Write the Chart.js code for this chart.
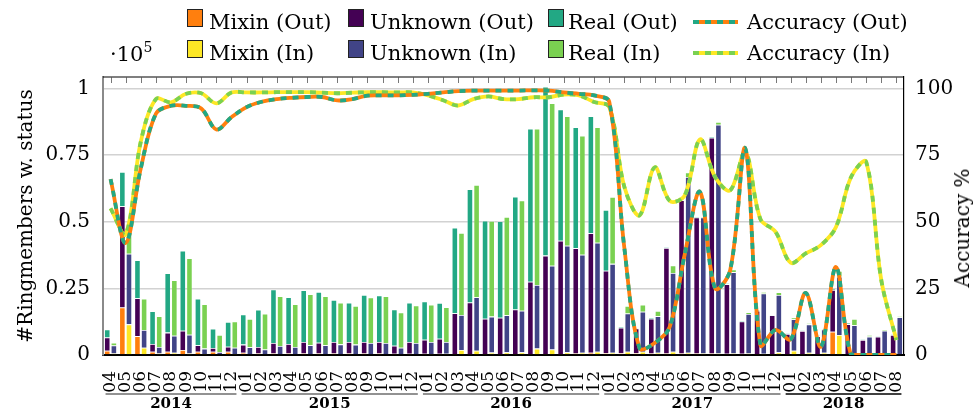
<!DOCTYPE html>
<html>
<head>
<meta charset="utf-8">
<script src="https://cdn.jsdelivr.net/npm/chart.js@4"></script>
<style>
  html, body { margin: 0; padding: 0; background: #fff; }
  #wrap { position: relative; width: 977px; height: 410px; overflow: hidden; }
  #chartBox { position: absolute; left: 0; top: 0; width: 977px; height: 410px; }
  .lg { position: absolute; font-family: 'DejaVu Serif', serif; font-size: 21px; line-height: 21px; color: #000; white-space: nowrap; }
  .box { position: absolute; width: 14px; height: 16px; border: 1px solid #222; }
  .ln { position: absolute; width: 45px; height: 4px; }
  #mult { position: absolute; left: 110px; top: 44px; font-family: 'DejaVu Serif', serif; font-size: 21px; line-height: 21px; }
  #mult sup { font-size: 14px; vertical-align: 9px; line-height: 0; }
  #rightTitle { position: absolute; left: 962px; top: 228px; font-family: 'DejaVu Serif', serif; font-size: 20px; line-height: 20px;
    white-space: nowrap; transform: translate(-50%, -50%) rotate(-90deg); }
</style>
</head>
<body>
<div id="wrap">
  <div id="chartBox"><canvas id="ringChart"></canvas></div>
  <div id="mult">·10<sup>5</sup></div>
  <div id="rightTitle">Accuracy %</div>
</div>
<script>
// month categories
const months = [
  '2014-04','2014-05','2014-06','2014-07','2014-08','2014-09','2014-10','2014-11','2014-12',
  '2015-01','2015-02','2015-03','2015-04','2015-05','2015-06','2015-07','2015-08','2015-09','2015-10','2015-11','2015-12',
  '2016-01','2016-02','2016-03','2016-04','2016-05','2016-06','2016-07','2016-08','2016-09','2016-10','2016-11','2016-12',
  '2017-01','2017-02','2017-03','2017-04','2017-05','2017-06','2017-07','2017-08','2017-09','2017-10','2017-11','2017-12',
  '2018-01','2018-02','2018-03','2018-04','2018-05','2018-06','2018-07','2018-08'
];

// ring members (x 10^5), outputs
const mixinOut = [
  0.016, 0.178, 0.071, 0.012, 0.012, 0.019, 0.012, 0.012, 0.012,
  0.008, 0.006, 0.006, 0.006, 0.006, 0.006, 0.006, 0.006, 0.006, 0.006, 0.005, 0.005,
  0.005, 0.005, 0.004, 0.004, 0.004, 0.004, 0.004, 0.004, 0.004, 0.004, 0.006, 0.008,
  0.007, 0.007, 0.007, 0.006, 0.006, 0.006, 0.006, 0.006, 0.005, 0.005, 0.004, 0.004,
  0.004, 0.004, 0.004, 0.087, 0.003, 0.003, 0.003, 0.003
];
const unknownOut = [
  0.050, 0.380, 0.142, 0.029, 0.072, 0.072, 0.025, 0.014, 0.019,
  0.031, 0.024, 0.039, 0.035, 0.043, 0.040, 0.043, 0.043, 0.043, 0.043, 0.030, 0.044,
  0.052, 0.056, 0.153, 0.193, 0.132, 0.136, 0.167, 0.271, 0.369, 0.425, 0.395, 0.449,
  0.309, 0.095, 0.093, 0.130, 0.396, 0.575, 0.510, 0.809, 0.261, 0.121, 0.162, 0.145,
  0.075, 0.086, 0.067, 0.157, 0.113, 0.053, 0.066, 0.072
];
const realOut = [
  0.030, 0.129, 0.143, 0.123, 0.223, 0.300, 0.174, 0.073, 0.093,
  0.113, 0.140, 0.201, 0.176, 0.194, 0.191, 0.158, 0.147, 0.176, 0.174, 0.136, 0.147,
  0.144, 0.134, 0.321, 0.425, 0.368, 0.362, 0.423, 0.574, 0.634, 0.492, 0.454, 0.439,
  0.228, 0.004, 0.003, 0.003, 0.003, 0.003, 0.003, 0.003, 0.003, 0.003, 0.003, 0.003,
  0.002, 0.002, 0.002, 0.004, 0.004, 0.002, 0.002, 0.002
];

// ring members (x 10^5), inputs
const mixinIn = [
  0.006, 0.115, 0.027, 0.006, 0.008, 0.006, 0.004, 0.003, 0.004,
  0.003, 0.003, 0.003, 0.003, 0.003, 0.003, 0.003, 0.003, 0.003, 0.003, 0.003, 0.003,
  0.004, 0.005, 0.019, 0.016, 0.009, 0.010, 0.010, 0.024, 0.021, 0.010, 0.008, 0.012,
  0.008, 0.012, 0.012, 0.008, 0.012, 0.008, 0.006, 0.006, 0.006, 0.006, 0.005, 0.010,
  0.016, 0.008, 0.008, 0.075, 0.003, 0.003, 0.003, 0.003
];
const unknownIn = [
  0.030, 0.265, 0.067, 0.024, 0.064, 0.070, 0.020, 0.008, 0.023,
  0.026, 0.018, 0.031, 0.027, 0.034, 0.034, 0.037, 0.036, 0.042, 0.042, 0.024, 0.042,
  0.045, 0.044, 0.131, 0.201, 0.135, 0.139, 0.156, 0.239, 0.314, 0.400, 0.368, 0.409,
  0.334, 0.144, 0.150, 0.138, 0.296, 0.660, 0.510, 0.858, 0.305, 0.148, 0.226, 0.215,
  0.118, 0.107, 0.088, 0.219, 0.109, 0.066, 0.088, 0.139
];
const realIn = [
  0.010, 0.103, 0.117, 0.116, 0.209, 0.287, 0.167, 0.064, 0.099,
  0.106, 0.134, 0.187, 0.161, 0.191, 0.184, 0.156, 0.145, 0.171, 0.176, 0.133, 0.141,
  0.140, 0.130, 0.308, 0.421, 0.359, 0.369, 0.414, 0.586, 0.610, 0.486, 0.447, 0.434,
  0.251, 0.028, 0.027, 0.019, 0.028, 0.017, 0.004, 0.010, 0.010, 0.007, 0.005, 0.011,
  0.007, 0.004, 0.004, 0.021, 0.023, 0.006, 0.003, 0.003
];

// accuracy in %
const accuracyOut = [
  66, 42, 70, 90.5, 93.5, 93.5, 92.5, 84.6, 89.2,
  93, 95, 96, 96.5, 96.8, 96.8, 95.5, 96, 97.3, 97.4, 97.4, 97.6,
  98, 98.5, 99, 99.2, 99.2, 99.2, 99.2, 99.3, 99.2, 98.5, 98, 97.4,
  95, 40, 2.6, 4.5, 10.6, 38, 61.2, 25, 31.8, 77.5, 3.7, 9.4,
  5.9, 23.3, 3.1, 33, 0, 0, 0, 0
];
const accuracyIn = [
  55, 45.3, 80, 96, 94.8, 98, 98.2, 94.4, 98.5,
  98.5, 98.5, 98.6, 98.6, 98.6, 98.4, 98.2, 98.4, 98.6, 98.6, 98.5, 98.5,
  97.4, 95.6, 93.6, 96, 97, 96, 96, 96.7, 96.7, 97.7, 97.4, 94.9,
  93, 63, 52.4, 70.4, 57.8, 60, 80.9, 66.8, 61.8, 76.1, 51, 46.2,
  34.6, 38.1, 41.2, 48, 66.8, 72.4, 28, 5.6
];

const C = {
  mixOut: '#ff7f0e', unkOut: '#440154', realOut: '#22a884',
  mixIn: '#fde725', unkIn: '#414487', realIn: '#7ad151'
};
const serif = 'DejaVu Serif';

// legend (html)
const legendItems = [
  { text: 'Mixin (Out)', color: C.mixOut, row: 0, col: 0 },
  { text: 'Unknown (Out)', color: C.unkOut, row: 0, col: 1 },
  { text: 'Real (Out)', color: C.realOut, row: 0, col: 2 },
  { text: 'Accuracy (Out)', line: [C.realOut, C.mixOut], row: 0, col: 3 },
  { text: 'Mixin (In)', color: C.mixIn, row: 1, col: 0 },
  { text: 'Unknown (In)', color: C.unkIn, row: 1, col: 1 },
  { text: 'Real (In)', color: C.realIn, row: 1, col: 2 },
  { text: 'Accuracy (In)', line: [C.realIn, C.mixIn], row: 1, col: 3 }
];
const colSwatchX = [187, 348, 548, 693];
const colTextX = [209, 370, 568, 747];
const rowTop = [9, 40];
const wrap = document.getElementById('wrap');
legendItems.forEach(it => {
  const sw = document.createElement('div');
  if (it.line) {
    sw.className = 'ln';
    sw.style.left = colSwatchX[it.col] + 'px';
    sw.style.top = (rowTop[it.row] + 11) + 'px';
    sw.style.background = `repeating-linear-gradient(90deg, ${it.line[0]} 0 6px, ${it.line[1]} 6px 12px)`;
  } else {
    sw.className = 'box';
    sw.style.left = colSwatchX[it.col] + 'px';
    sw.style.top = rowTop[it.row] + 'px';
    sw.style.background = it.color;
  }
  wrap.appendChild(sw);
  const t = document.createElement('div');
  t.className = 'lg';
  t.textContent = it.text;
  t.style.left = colTextX[it.col] + 'px';
  t.style.top = (rowTop[it.row] + 3) + 'px';
  wrap.appendChild(t);
});

// ticks along the top frame + year brackets under the month labels
const framePlugin = {
  id: 'frame',
  afterDraw(chart) {
    const { ctx, chartArea: a } = chart;
    const xs = chart.scales.x;
    ctx.save();
    ctx.strokeStyle = '#000';
    ctx.lineWidth = 1.2;
    ctx.beginPath();
    ctx.moveTo(a.left, a.top);
    ctx.lineTo(a.right, a.top);
    ctx.stroke();
    ctx.strokeStyle = '#555';
    ctx.lineWidth = 0.8;
    for (let i = 0; i < months.length; i++) {
      const px = Math.round(xs.getPixelForTick(i)) + 0.5;
      ctx.beginPath();
      ctx.moveTo(px, a.top);
      ctx.lineTo(px, a.top + 6);
      ctx.stroke();
    }
    // years
    const years = [...new Set(months.map(m => m.slice(0, 4)))];
    ctx.font = `bold 15px "${serif}"`;
    ctx.fillStyle = '#000';
    ctx.textAlign = 'center';
    ctx.textBaseline = 'top';
    years.forEach((y, k) => {
      const first = months.findIndex(m => m.startsWith(y));
      const last = months.length - 1 - [...months].reverse().findIndex(m => m.startsWith(y));
      const x0 = xs.getPixelForValue(first) - 5;
      const x1 = xs.getPixelForValue(last) + 5;
      ctx.strokeStyle = k === years.length - 1 ? '#000' : '#6e6e6e';
      ctx.lineWidth = 1.5;
      ctx.beginPath();
      ctx.moveTo(x0, 394);
      ctx.lineTo(x1, 394);
      ctx.stroke();
      ctx.fillText(y, (x0 + x1) / 2, 397);
    });
    ctx.restore();
  }
};

function barSet(label, data, color, stack) {
  return {
    type: 'bar', label, data, stack, yAxisID: 'y', order: 10,
    backgroundColor: color, borderColor: 'rgba(255,255,255,0.35)', borderWidth: 0.8,
    categoryPercentage: 0.88, barPercentage: 0.93
  };
}
function lineSet(label, data, color, dash, order) {
  return {
    type: 'line', label, data, yAxisID: 'y1', order,
    borderColor: color, borderWidth: 3.8, borderDash: dash,
    pointRadius: 0, tension: 0.35, fill: false
  };
}

new Chart(document.getElementById('ringChart').getContext('2d'), {
  type: 'bar',
  data: {
    labels: months,
    datasets: [
      barSet('Mixin (Out)', mixinOut, C.mixOut, 'out'),
      barSet('Unknown (Out)', unknownOut, C.unkOut, 'out'),
      barSet('Real (Out)', realOut, C.realOut, 'out'),
      barSet('Mixin (In)', mixinIn, C.mixIn, 'in'),
      barSet('Unknown (In)', unknownIn, C.unkIn, 'in'),
      barSet('Real (In)', realIn, C.realIn, 'in'),
      lineSet('Accuracy (In)', accuracyIn, C.mixIn, [], 4),
      lineSet('Accuracy (In) dashes', accuracyIn, C.realIn, [6, 6], 3),
      lineSet('Accuracy (Out)', accuracyOut, C.mixOut, [], 2),
      lineSet('Accuracy (Out) dashes', accuracyOut, C.realOut, [6, 6], 1)
    ]
  },
  options: {
    responsive: true,
    maintainAspectRatio: false,
    animation: false,
    devicePixelRatio: 1,
    layout: { padding: { top: 77, left: 0, right: 0, bottom: 0 } },
    plugins: { legend: { display: false }, tooltip: { enabled: false } },
    scales: {
      x: {
        stacked: true,
        offset: true,
        grid: { display: false },
        border: { display: true, color: '#000', width: 2 },
        ticks: {
          autoSkip: false, minRotation: 90, maxRotation: 90, padding: 8,
          color: '#000', font: { family: serif, size: 17 },
          callback: (v, i) => months[i].slice(5)
        },
        afterFit: s => { s.height = 55; }
      },
      y: {
        position: 'left',
        stacked: true,
        min: 0, max: 1.043,
        grid: { color: '#d2d2d2', lineWidth: 1.5, drawTicks: false },
        border: { color: '#8a8a8a', width: 2 },
        ticks: {
          stepSize: 0.25, includeBounds: false, padding: 13,
          color: '#000', font: { family: serif, size: 20 },
          callback: v => String(v)
        },
        title: {
          display: true, text: '#Ringmembers w. status', color: '#000',
          font: { family: serif, size: 20 }, padding: { top: 15, bottom: 0 }
        },
        afterFit: s => { s.width = 103; }
      },
      y1: {
        position: 'right',
        min: 0, max: 104.3,
        grid: { drawOnChartArea: false, drawTicks: false },
        border: { color: '#000', width: 1.2 },
        ticks: {
          stepSize: 25, includeBounds: false, padding: 11,
          color: '#000', font: { family: serif, size: 20 },
          callback: v => String(v)
        },
        afterFit: s => { s.width = 73; }
      }
    }
  },
  plugins: [framePlugin]
});
</script>
</body>
</html>
